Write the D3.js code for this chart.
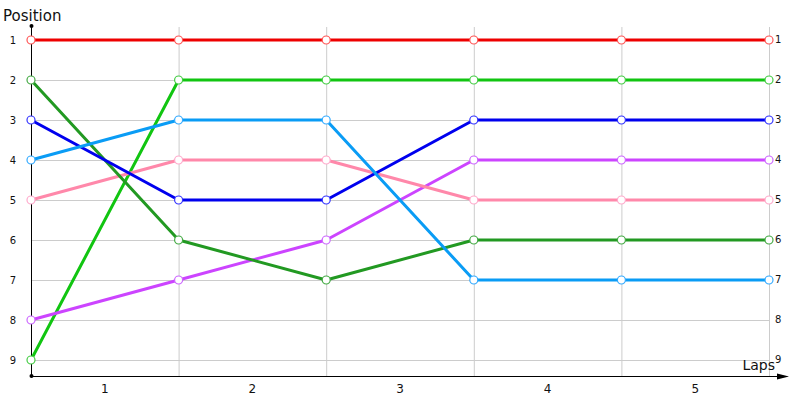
<!DOCTYPE html>
<html lang="en">
<head>
<meta charset="UTF-8">
<title>Positions by lap</title>
<script src="https://cdnjs.cloudflare.com/ajax/libs/d3/7.8.5/d3.min.js"></script>
<style>
  body { margin: 0; background: #fff; }
  text { font-family: "DejaVu Sans", Verdana, sans-serif; fill: #111; }
</style>
</head>
<body>
<svg width="800" height="400"></svg>
<script>
// lap 0 (start) .. lap 5
const laps = [0, 1, 2, 3, 4, 5];
const lapLabels = ["1", "2", "3", "4", "5"];
const positions = [1, 2, 3, 4, 5, 6, 7, 8, 9];

const red        = [1, 1, 1, 1, 1, 1];
const lightGreen = [9, 2, 2, 2, 2, 2];
const blue       = [3, 5, 5, 3, 3, 3];
const purple     = [8, 7, 6, 4, 4, 4];
const pink       = [5, 4, 4, 5, 5, 5];
const darkGreen  = [2, 6, 7, 6, 6, 6];
const skyBlue    = [4, 3, 3, 7, 7, 7];

const series = [
  { values: red,        line: "#ee0000", dot: "#ff5555" },
  { values: lightGreen, line: "#11c511", dot: "#44cc44" },
  { values: purple,     line: "#cc44ff", dot: "#cc66ff" },
  { values: pink,       line: "#ff88aa", dot: "#ffaacc" },
  { values: darkGreen,  line: "#229922", dot: "#44aa44" },
  { values: blue,       line: "#0000ee", dot: "#3333ff" },
  { values: skyBlue,    line: "#0a9cf5", dot: "#33aaff" }
];

const svg = d3.select("svg");
const x = d3.scaleLinear().domain([0, 5]).range([31, 769]);
const y = d3.scaleLinear().domain([1, 9]).range([40, 360]);
const axisY = 376;

// grid
svg.append("g").selectAll("line").data(positions).enter().append("line")
  .attr("x1", x(0)).attr("x2", x(5))
  .attr("y1", d => y(d) + 0.5).attr("y2", d => y(d) + 0.5)
  .attr("stroke", "#cccccc");
svg.append("g").selectAll("line").data(laps.slice(1)).enter().append("line")
  .attr("x1", d => x(d) + 0.5).attr("x2", d => x(d) + 0.5)
  .attr("y1", 27).attr("y2", axisY)
  .attr("stroke", "#cccccc");

// axes
svg.append("line").attr("x1", x(0) + 0.5).attr("x2", x(0) + 0.5)
  .attr("y1", 26).attr("y2", axisY).attr("stroke", "#000");
svg.append("circle").attr("cx", x(0) + 0.5).attr("cy", 26).attr("r", 2).attr("fill", "#000");
svg.append("circle").attr("cx", x(0) + 0.5).attr("cy", axisY).attr("r", 2).attr("fill", "#000");
svg.append("line").attr("x1", x(0)).attr("x2", 782)
  .attr("y1", axisY + 0.5).attr("y2", axisY + 0.5).attr("stroke", "#000");
svg.append("path").attr("d", `M777,${axisY - 2.5} L789,${axisY + 0.5} L777,${axisY + 3.5} Z`).attr("fill", "#000");

// position labels, left and right
svg.append("g").selectAll("text").data(positions).enter().append("text")
  .attr("x", 16).attr("y", d => y(d) + 4)
  .attr("text-anchor", "end").attr("font-size", 10).text(d => d);
svg.append("g").selectAll("text").data(positions).enter().append("text")
  .attr("x", 775).attr("y", d => y(d) + 3)
  .attr("font-size", 10).text(d => d);

// lap labels between lap marks
svg.append("g").selectAll("text").data(lapLabels).enter().append("text")
  .attr("x", (d, i) => x(i + 0.5)).attr("y", 393)
  .attr("text-anchor", "middle").attr("font-size", 12).text(d => d);

svg.append("text").attr("x", 3).attr("y", 21).attr("font-size", 15).text("Position");
svg.append("text").attr("x", 775).attr("y", 370).attr("text-anchor", "end")
  .attr("font-size", 14).text("Laps");

// lines and markers
const line = d3.line().x((d, i) => x(laps[i])).y(d => y(d));
const g = svg.append("g");
series.forEach(s => {
  g.append("path").attr("d", line(s.values))
    .attr("fill", "none").attr("stroke", s.line).attr("stroke-width", 3)
    .attr("stroke-linejoin", "round");
});
series.forEach(s => {
  g.append("g").selectAll("circle").data(s.values).enter().append("circle")
    .attr("cx", (d, i) => x(laps[i])).attr("cy", d => y(d)).attr("r", 4)
    .attr("fill", "#fff").attr("stroke", s.dot).attr("stroke-width", 1.2);
});
</script>
</body>
</html>
